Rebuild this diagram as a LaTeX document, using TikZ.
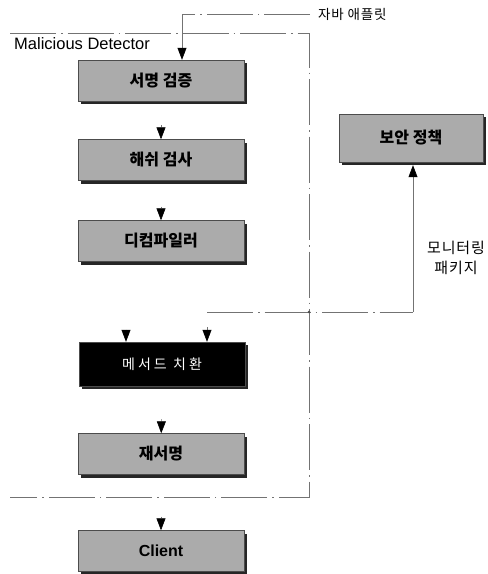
\documentclass[tikz,border=0pt]{standalone}
\usepackage{fontspec}
\setmainfont{Liberation Sans}
\newfontfamily\kr{Noto Sans CJK KR}
\newfontfamily\krw[LetterSpace=22]{Noto Sans CJK KR}
\newfontfamily\krm[LetterSpace=6]{Noto Sans CJK KR}
\usetikzlibrary{arrows.meta,shadows,calc}
\begin{document}
\begin{tikzpicture}[x=1pt,y=-1pt,
  box/.style={draw=black!70, line width=0.4pt, fill=black!33, minimum width=166pt, minimum height=41pt, inner sep=0pt,
    font=\kr\bfseries\fontsize{16}{18}\selectfont,
    drop shadow={shadow xshift=3pt, shadow yshift=-3pt, fill=black!85, opacity=1}},
  dl/.style={draw=black!55, line width=0.6pt, dash pattern=on 46pt off 5pt on 1.5pt off 5pt},
  tip/.style={-{Triangle[width=9pt,length=12pt,color=black]}},
  arr/.style={draw=black!55, line width=0.6pt, tip},
  lbl/.style={font=\krm\fontsize{15}{20}\selectfont}]
\useasboundingbox (0,0) rectangle (488,574);

% boxes
\node[box] (b1) at (161,80.5) {서명 검증};
\node[box] (b2) at (161,160) {해쉬 검사};
\node[box] (b3) at (161,241) {디컴파일러};
\node[box, fill=black, text=white, minimum height=44pt, font=\krw\fontsize{14}{16}\selectfont] (b4) at (162,364) {메서드 치환};
\node[box] (b5) at (161,454) {재서명};
\node[box, font=\bfseries\fontsize{16}{18}\selectfont] (cl) at (161,551) {Client};
\node[box, minimum width=144pt, minimum height=48pt] (sec) at (411,138) {보안 정책};

% labels
\node[anchor=west, inner sep=0pt, font=\fontsize{16.5}{19}\selectfont] (md) at (14,44) {Malicious Detector};
\node[anchor=west, inner sep=0pt, font=\krm\fontsize{13.5}{15}\selectfont] (java) at (318,14) {자바 애플릿};
\node[lbl, align=center] (mon) at (456,258) {모니터링\\패키지};

% detector frame
\coordinate (ftl) at (10,33);
\coordinate (ftr) at (309,33);
\coordinate (fbr) at (309,497);
\coordinate (fbl) at (10,497);
\draw[dl] (ftl) -- (ftr) -- (fbr) -- (fbl);

% java applet input
\coordinate (tc) at (182,14);
\draw[dl] ([xshift=-8pt]java.west) -- (tc);
\draw[dl, tip] (tc) -- (tc |- b1.north);

% monitoring package line
\coordinate (mj) at (207,312);
\coordinate (mr) at (413,312);
\draw[dl] (mj) -- (mr);
\draw[arr, shorten >=3pt] (mr) -- (mr |- sec.south);
\fill[black!70] (fbr |- mj) circle (1.4pt);

% flow arrows
\coordinate (ax) at (126,0);
\draw[arr, shorten <=24pt] (b1) -- (b2);
\draw[arr, shorten <=26pt] (b2) -- (b3);
\draw[arr, shorten <=68pt] (b3.south -| ax) -- (b4.north -| ax);
\draw[arr, shorten <=15pt] (mj) -- (mj |- b4.north);
\draw[arr, shorten <=33pt] (b4) -- (b5);
\draw[arr, shorten <=42pt] (b5) -- (cl);
\end{tikzpicture}
\end{document}
